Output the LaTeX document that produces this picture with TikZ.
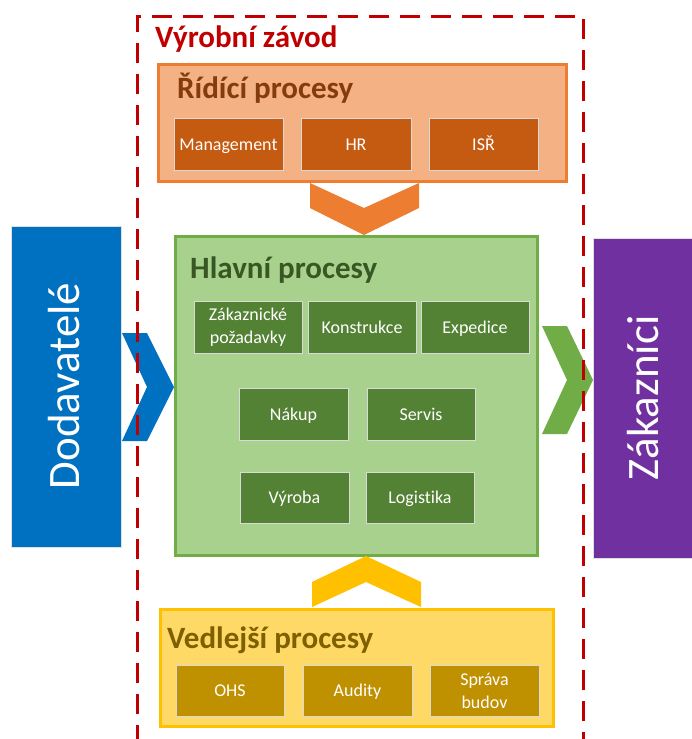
\documentclass[tikz,border=0pt]{standalone}
\usepackage{fontspec}
\setmainfont{Carlito}[Ligatures=NoCommon]
\definecolor{frame}{HTML}{C00000}
\definecolor{orfill}{HTML}{F4B183}
\definecolor{orline}{HTML}{ED7D31}
\definecolor{orbox}{HTML}{C55A11}
\definecolor{ortext}{HTML}{843C0C}
\definecolor{grfill}{HTML}{A9D18E}
\definecolor{grline}{HTML}{70AD47}
\definecolor{grbox}{HTML}{548235}
\definecolor{grtext}{HTML}{385723}
\definecolor{yefill}{HTML}{FFD966}
\definecolor{yeline}{HTML}{FFC000}
\definecolor{yebox}{HTML}{BF9000}
\definecolor{yetext}{HTML}{7F6000}
\definecolor{blue}{HTML}{0070C0}
\definecolor{purple}{HTML}{7030A0}
\begin{document}
\begin{tikzpicture}[x=1pt,y=-1pt,
  group/.style={draw, line width=3pt, inner sep=0pt},
  item/.style={draw=black!15, line width=0.8pt, inner sep=0pt, text=white,
    minimum height=52pt, font=\fontsize{18}{22}\selectfont, align=center,
    text height=12pt, text depth=0pt},
  twoline/.style={text height={}, text depth={}, font=\fontsize{18}{23}\selectfont},
  title/.style={anchor=base west, font=\bfseries\fontsize{31}{36}\selectfont, inner sep=0pt},
  side/.style={draw=black!12, line width=0.6pt, inner sep=0pt},
  sidetext/.style={rotate=90, text=white, font=\fontsize{45}{54}\selectfont, inner sep=0pt}
]
\useasboundingbox (0,0) rectangle (691,739);

% outside parties
\node[side, fill=blue, minimum width=110pt, minimum height=321pt] (dod) at (66,386.5) {};
\node[sidetext] (dodt) at (64,386) {Dodavatelé};
\node[side, fill=purple, minimum width=100pt, minimum height=320pt] (zak) at (643,398) {};
\node[sidetext] (zakt) at (643,398) {Zákazníci};

% groups
\node[group, draw=orline, fill=orfill, minimum width=408pt, minimum height=117pt] (rid) at (362.5,123) {};
\node[group, draw=grline, fill=grfill, minimum width=362pt, minimum height=319pt] (hla) at (356.5,396) {};
\node[group, draw=yeline, fill=yefill, minimum width=393pt, minimum height=117pt] (ved) at (357,668) {};

\node[title, text=frame] (vz) at (155,47) {Výrobní závod};
\node[title, text=ortext] (ridt) at (177,98) {Řídící procesy};
\node[title, text=grtext] (hlat) at (190,278) {Hlavní procesy};
\node[title, text=yetext] (vedt) at (167,648) {Vedlejší procesy};

% items
\node[item, fill=orbox, minimum width=109pt] (man) at (228.5,144) {Management};
\node[item, fill=orbox, minimum width=110pt] (hr) at (356,144) {HR};
\node[item, fill=orbox, minimum width=109pt] (isr) at (483.5,144) {ISŘ};

\node[item, twoline, fill=grbox, minimum width=108pt] (zp) at (248,327) {Zákaznické\\požadavky};
\node[item, fill=grbox, minimum width=108pt] (kon) at (362,327) {Konstrukce};
\node[item, fill=grbox, minimum width=108pt] (exp) at (475,327) {Expedice};
\node[item, fill=grbox, minimum width=109pt] (nak) at (293.5,414) {Nákup};
\node[item, fill=grbox, minimum width=108pt] (ser) at (421,414) {Servis};
\node[item, fill=grbox, minimum width=109pt, minimum height=51pt] (vyr) at (294.5,497.5) {Výroba};
\node[item, fill=grbox, minimum width=108pt, minimum height=51pt] (log) at (420,497.5) {Logistika};

\node[item, fill=yebox, minimum width=108pt, minimum height=51pt] (ohs) at (230,690.5) {OHS};
\node[item, fill=yebox, minimum width=109pt, minimum height=51pt] (aud) at (357.5,690.5) {Audity};
\node[item, twoline, fill=yebox, minimum width=109pt, minimum height=51pt] (spr) at (484.5,690.5) {Správa\\budov};

% chevrons
\fill[orline] (310,183) -- (364,208) -- (419,183) -- (419,208) -- (364,235) -- (310,208) -- cycle;
\fill[yeline] (312,607) -- (312,582) -- (366,556) -- (421,582) -- (421,607) -- (366,582) -- cycle;
\fill[blue] (122,333) -- (147,333) -- (174,387) -- (147,441) -- (122,441) -- (147,387) -- cycle;
\fill[grline] (542,326) -- (567,326) -- (593,380) -- (567,434) -- (542,434) -- (567,380) -- cycle;

% frame
\draw[frame, line width=3pt, dash pattern=on 20pt off 11pt] (137,745) -- (137,16) -- (583,16) -- (583,745);
\end{tikzpicture}
\end{document}
